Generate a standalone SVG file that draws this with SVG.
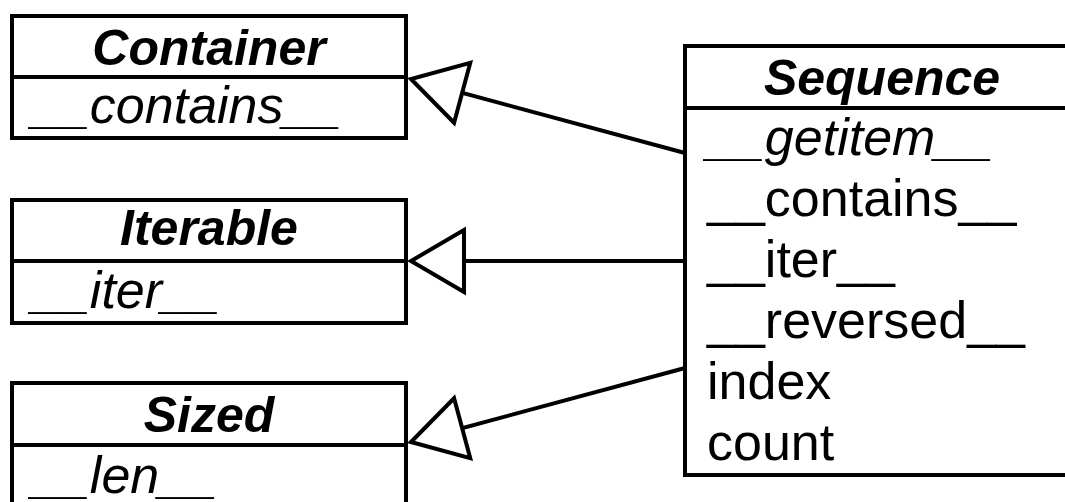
<svg xmlns="http://www.w3.org/2000/svg" width="1065" height="502" viewBox="0 0 1065 502">
  <style>
    .box { fill: #ffffff; stroke: #000000; stroke-width: 4; }
    .div { stroke: #000000; stroke-width: 4; }
    .title { font-family: "Liberation Sans", Arial, Helvetica, sans-serif; font-size: 50px; font-weight: bold; font-style: italic; fill: #000; text-anchor: middle; }
    .attr { font-family: "Liberation Sans", Arial, Helvetica, sans-serif; font-size: 52px; fill: #000; }
    .it { font-style: italic; }
    .edge { fill: none; stroke: #000000; stroke-width: 4; marker-end: url(#tri); }
  </style>
  <defs>
    <marker id="tri" markerUnits="userSpaceOnUse" viewBox="-60 -40 70 80" refX="0" refY="0" markerWidth="70" markerHeight="80" orient="auto" overflow="visible">
      <path d="M0,0 L-53,-31 L-53,31 Z" fill="#ffffff" stroke="#000000" stroke-width="4" stroke-linejoin="miter"/>
    </marker>
  </defs>
  <rect width="1065" height="502" fill="#ffffff"/>

  <g id="container">
    <rect class="box" x="12" y="16" width="394" height="122"/>
    <line class="div" x1="12" y1="77" x2="406" y2="77"/>
    <text class="title" x="209" y="65">Container</text>
    <text class="attr it" x="32" y="123">__contains__</text>
  </g>

  <g id="iterable">
    <rect class="box" x="12" y="200" width="394" height="123"/>
    <line class="div" x1="12" y1="261" x2="406" y2="261"/>
    <text class="title" x="209" y="245">Iterable</text>
    <text class="attr it" x="32" y="308">__iter__</text>
  </g>

  <g id="sized">
    <rect class="box" x="12" y="383" width="394" height="140"/>
    <line class="div" x1="12" y1="445" x2="406" y2="445"/>
    <text class="title" x="209" y="432">Sized</text>
    <text class="attr it" x="32" y="493">__len__</text>
  </g>

  <g id="sequence">
    <rect class="box" x="685" y="46" width="400" height="429"/>
    <line class="div" x1="685" y1="108" x2="1085" y2="108"/>
    <text class="title" x="882" y="95">Sequence</text>
    <text class="attr it" x="707" y="155">__getitem__</text>
    <text class="attr" x="707" y="216">__contains__</text>
    <text class="attr" x="707" y="277">__iter__</text>
    <text class="attr" x="707" y="338">__reversed__</text>
    <text class="attr" x="707" y="399">index</text>
    <text class="attr" x="707" y="460">count</text>
  </g>

  <g id="connectors">
    <line class="edge" x1="685" y1="153" x2="411" y2="79"/>
    <line class="edge" x1="685" y1="261" x2="411" y2="261"/>
    <line class="edge" x1="685" y1="368" x2="411" y2="442"/>
  </g>
</svg>
